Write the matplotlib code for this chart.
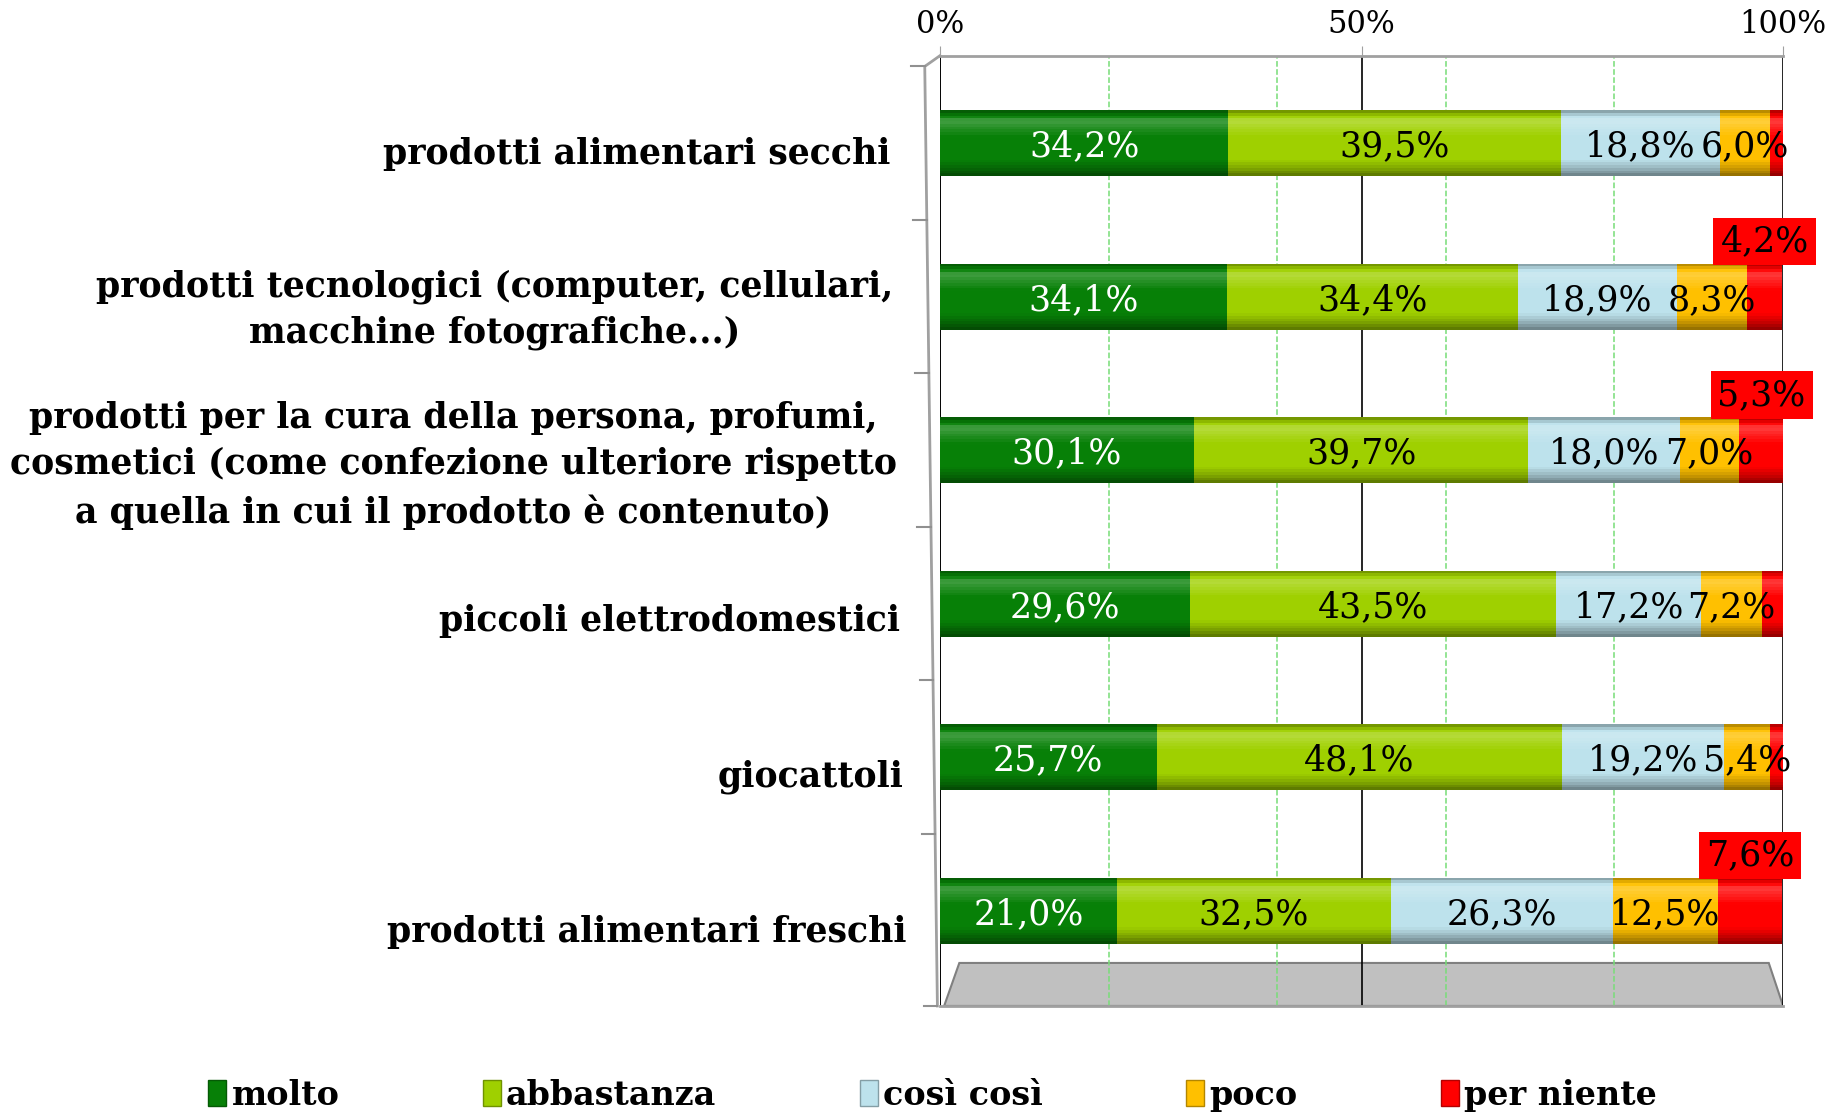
import numpy as np
import matplotlib.pyplot as plt
from matplotlib.patches import Patch, Polygon
from matplotlib.colors import to_rgb

# dati
categorie = [
    "prodotti alimentari secchi",
    "prodotti tecnologici (computer, cellulari,\nmacchine fotografiche...)",
    "prodotti per la cura della persona, profumi,\ncosmetici (come confezione ulteriore rispetto\na quella in cui il prodotto è contenuto)",
    "piccoli elettrodomestici",
    "giocattoli",
    "prodotti alimentari freschi",
]
molto = [34.2, 34.1, 30.1, 29.6, 25.7, 21.0]
abbastanza = [39.5, 34.4, 39.7, 43.5, 48.1, 32.5]
cosi_cosi = [18.8, 18.9, 18.0, 17.2, 19.2, 26.3]
poco = [6.0, 8.3, 7.0, 7.2, 5.4, 12.5]
per_niente = [1.5, 4.2, 5.3, 2.5, 1.6, 7.6]

serie = ["molto", "abbastanza", "così così", "poco", "per niente"]
colori = ["#078007", "#9FD000", "#BDE2EC", "#FFC000", "#FF0000"]
colori_testo = ["white", "black", "black", "black", "black"]
tick_x = [0, 50, 100]
tick_x_lab = ["0%", "50%", "100%"]


def sfuma(c, f):
    # f > 0 schiarisce, f < 0 scurisce
    c = np.array(to_rgb(c))
    if f > 0:
        return tuple(c + (1 - c) * f)
    return tuple(c * (1 + f))


def perc(v):
    return f"{v:.1f}%".replace(".", ",")


fig = plt.figure(figsize=(18.43, 11.14), dpi=100)
ax = fig.add_axes([0.510, 0.097, 0.4575, 0.853])

for s in ["top", "bottom"]:
    ax.spines[s].set_color("#A0A0A0")
    ax.spines[s].set_linewidth(2)
ax.spines["left"].set_visible(False)
ax.spines["right"].set_visible(False)

y = np.arange(len(categorie))
h = 0.43
valori = [molto, abbastanza, cosi_cosi, poco, per_niente]
sinistra = np.zeros(len(categorie))

# profilo del cilindro (posizione dall'alto, sfumatura)
prof_t = [0.0, 0.08, 0.16, 0.24, 0.4, 0.75, 0.88, 1.0]
prof_f = [-0.35, -0.05, 0.25, 0.15, 0.0, 0.0, -0.2, -0.45]
n_fasce = 24

for j, vals in enumerate(valori):
    vals = np.array(vals)
    for k in range(n_fasce):
        a, b = k / n_fasce, (k + 1) / n_fasce
        f = np.interp((a + b) / 2, prof_t, prof_f)
        ax.barh(y - h / 2 + (a + b) / 2 * h, vals, left=sinistra, height=(b - a) * h * 1.02,
                color=sfuma(colori[j], f), linewidth=0, zorder=3)
    for i in range(len(categorie)):
        xc = sinistra[i] + vals[i] / 2
        if j < 4:
            ax.text(xc, y[i] + 0.02, perc(vals[i]), ha="center", va="center",
                    fontsize=25, family="DejaVu Serif", color=colori_testo[j], zorder=5)
        elif vals[i] >= 4:
            ax.text(xc, y[i] - 0.36, perc(vals[i]), ha="center", va="center",
                    fontsize=25, family="DejaVu Serif", color="black", zorder=5,
                    bbox=dict(boxstyle="square,pad=0.2", fc="#FF0000", ec="none"))
    sinistra += vals

# pavimento grigio
pav = Polygon([[0.5, 5.62], [100, 5.62], [98.3, 5.34], [2.3, 5.34]], closed=True,
              facecolor="#C0C0C0", edgecolor="#808080", linewidth=1.5, zorder=0.3)
ax.add_patch(pav)

ax.set_xlim(0, 100)
ax.set_ylim(5.62, -0.57)

# parete sinistra in prospettiva con le tacche
tr = ax.get_yaxis_transform()
y0, y1 = -0.57, 5.62


def x_parete(yy):
    return -0.018 + (yy - (-0.5)) / (y1 + 0.5) * 0.015


ax.plot([0, x_parete(-0.5), x_parete(y1)], [y0, -0.5, y1], transform=tr,
        color="#A0A0A0", linewidth=2, clip_on=False, zorder=2)
for yy in list(np.arange(-0.5, 5.0, 1.0)) + [y1]:
    xp = x_parete(yy)
    ax.plot([xp - 0.016, xp], [yy, yy], transform=tr, color="#909090",
            linewidth=1.5, clip_on=False, zorder=2)

ax.xaxis.tick_top()
ax.set_xticks([20, 40, 60, 80], minor=True)
ax.tick_params(axis="x", which="major", length=7, color="#A0A0A0", pad=4)
ax.tick_params(axis="x", which="minor", length=0)
ax.set_xticks(tick_x)
ax.set_xticklabels(tick_x_lab, fontsize=22, family="DejaVu Serif")
ax.set_axisbelow(True)
ax.grid(axis="x", which="major", color="black", linewidth=1.2, zorder=0.5)
ax.grid(axis="x", which="minor", color="#77DD77", linestyle="--", linewidth=1.1, zorder=0.5)
ax.axvline(0, color="black", linewidth=1.2, zorder=0.5)

# etichette delle categorie
ax.set_yticks([])
for i, cat in enumerate(categorie):
    ax.text(-0.059 + 0.0039 * i, y[i] + 0.07 + 0.014 * i, cat, transform=tr,
            ha="right", va="center", multialignment="center", linespacing=1.45,
            fontsize=25, family="DejaVu Serif", fontweight="bold")

maniglie = [Patch(facecolor=c, edgecolor=sfuma(c, -0.3)) for c in colori]
fig.legend(maniglie, serie, loc="center", bbox_to_anchor=(0.506, 0.017), ncol=5,
           frameon=False, handlelength=0.55, handleheight=0.8, handletextpad=0.15,
           columnspacing=4.3, prop={"family": "DejaVu Serif", "weight": "bold", "size": 24})

fig.savefig("out.png", dpi=100)
